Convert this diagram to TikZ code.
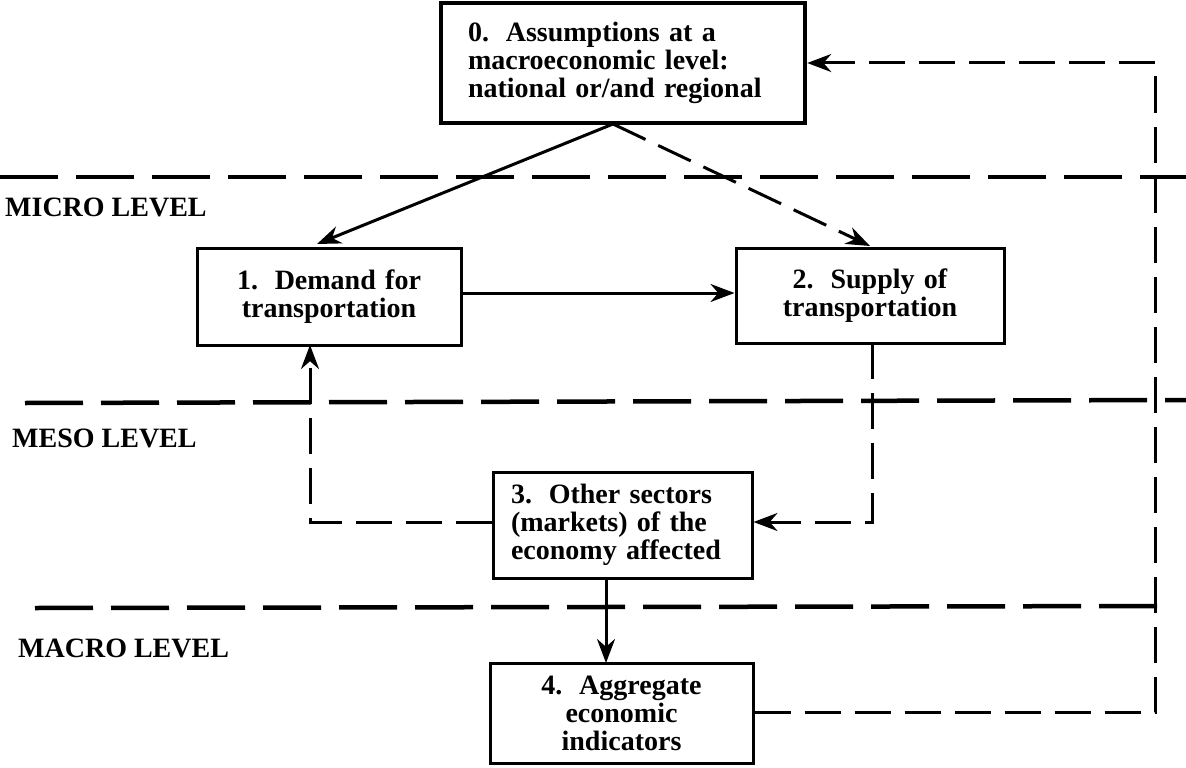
\documentclass[tikz,border=0pt]{standalone}
\usepackage{fontspec}
\setmainfont{Liberation Serif}
\usetikzlibrary{arrows.meta}
\begin{document}
\begin{tikzpicture}[x=1pt,y=-1pt,
  box/.style={draw,line width=3pt,inner ysep=0pt,font=\fontsize{28}{28}\selectfont\bfseries},
  lvl/.style={draw,line width=4.5pt,dash pattern=on 58pt off 18pt},
  lbl/.style={anchor=west,inner sep=0pt,font=\fontsize{28}{28}\selectfont\bfseries},
  sol/.style={draw,line width=3pt,-{Stealth[length=24pt,width=18pt]}},
  dsh/.style={draw,line width=3pt,dash pattern=on 36pt off 14pt,-{Stealth[length=24pt,width=18pt]}}]
\useasboundingbox (0,0) rectangle (1186,768);
% level lines
\draw[lvl] (0,177) -- (1186,177);
\draw[lvl] (25,403) -- (1186,400);
\draw[lvl] (35,608) -- (1170,606);
\node[lbl] (micro) at (5,207) {MICRO LEVEL};
\node[lbl] (meso) at (12,438) {MESO LEVEL};
\node[lbl] (macro) at (18,648) {MACRO LEVEL};
% boxes
\node[box,line width=4.5pt,minimum width=364pt,minimum height=120pt,inner xsep=27pt,text width=310pt,align=left] (b0) at (623,63)
  {0.\hspace{0.6em}Assumptions at a\\macroeconomic level:\\national or/and regional};
\node[box,minimum width=264pt,minimum height=97pt,text width=240pt,align=center] (b1) at (329,296.5)
  {1.\hspace{0.6em}Demand for\\transportation};
\node[box,minimum width=268pt,minimum height=95pt,text width=244pt,align=center] (b2) at (870,295.5)
  {2.\hspace{0.6em}Supply of\\transportation};
\node[box,minimum width=259pt,minimum height=106pt,inner xsep=18pt,text width=223pt,align=left] (b3) at (622.5,525)
  {3.\hspace{0.6em}Other sectors\\(markets) of the\\economy affected};
\node[box,minimum width=263pt,minimum height=100pt,text width=240pt,align=center] (b4) at (621.5,713)
  {4.\hspace{0.6em}Aggregate\\economic\\indicators};
% connectors
\coordinate (s0) at (613,124);
\draw[sol] (s0) -- (317,244);
\draw[dsh] (s0) -- (870,246);
\draw[sol] (b1.east |- 0,293) -- (b2.west |- 0,293);
\coordinate (c2) at (872,522);
\draw[dsh] (872,343) -- (c2) -- (b3.east |- c2);
\coordinate (c3) at (310,522);
\draw[dsh] (b3.west |- c3) -- (c3) -- (310,345);
\draw[sol] (606,578) -- (606,663);
\coordinate (c4a) at (1155,712);
\coordinate (c4b) at (1155,63);
\draw[dsh] (b4.east |- c4a) -- (c4a) -- (c4b) -- (b0.east |- c4b);
\end{tikzpicture}
\end{document}
